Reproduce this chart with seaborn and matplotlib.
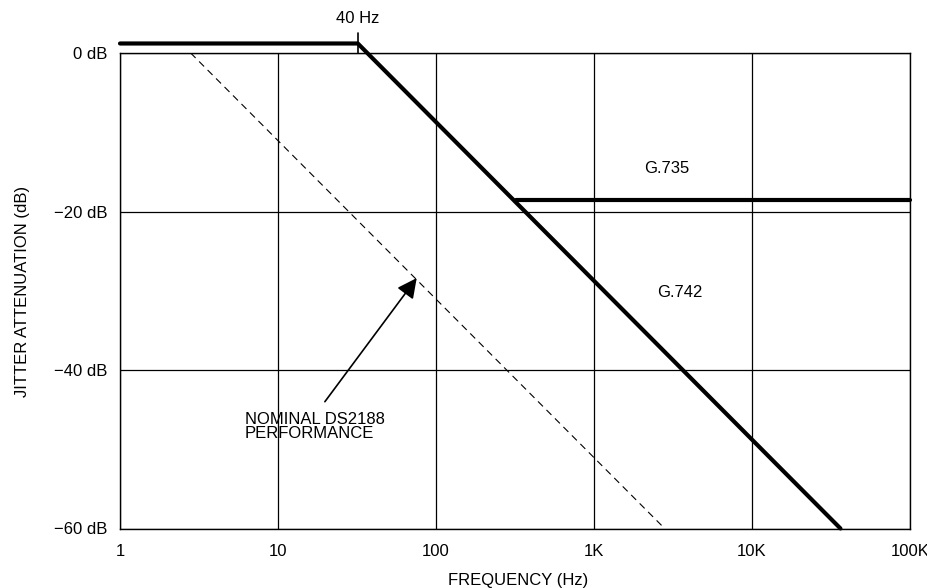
import matplotlib
matplotlib.use("Agg")
import matplotlib.pyplot as plt
import seaborn as sns
import pandas as pd

# ---- data ----
g742_freq = [1, 32, 36300]
g742_db = [1.2, 1.2, -60]
g735_freq = [320, 100000]
g735_db = [-18.6, -18.6]
ds2188_freq = [2.8, 2800]
ds2188_db = [0, -60]

x_ticks = [1, 10, 100, 1000, 10000, 100000]
x_tick_labels = ["1", "10", "100", "1K", "10K", "100K"]
y_ticks = [0, -20, -40, -60]
y_tick_labels = ["0 dB", "−20 dB", "−40 dB", "−60 dB"]

corner_freq = 32
corner_label = "40 Hz"

sns.set_theme(style="white")
plt.rcParams['font.family'] = ['Liberation Sans', 'DejaVu Sans']
plt.rcParams['text.color'] = 'black'
plt.rcParams['axes.labelcolor'] = 'black'
plt.rcParams['xtick.color'] = 'black'
plt.rcParams['ytick.color'] = 'black'
FS = 12

fig = plt.figure(figsize=(9.28, 5.88), dpi=100)
ax = fig.add_axes([120/928, 1-528.5/588, 790/928, 475.5/588])
ax.set_xscale('log')

df742 = pd.DataFrame({"f": g742_freq, "db": g742_db})
df735 = pd.DataFrame({"f": g735_freq, "db": g735_db})
dfds = pd.DataFrame({"f": ds2188_freq, "db": ds2188_db})

sns.lineplot(data=df742, x="f", y="db", ax=ax, color="black", lw=3.0,
             estimator=None, clip_on=False, zorder=5)
sns.lineplot(data=df735, x="f", y="db", ax=ax, color="black", lw=3.0,
             estimator=None, clip_on=False, zorder=5)
sns.lineplot(data=dfds, x="f", y="db", ax=ax, color="black", lw=0.8,
             estimator=None, zorder=4)
ax.lines[-1].set_dashes((6.3, 4.5))

ax.set_xlim(1, 1e5)
ax.set_ylim(-60, 0)
ax.set_xticks(x_ticks)
ax.set_xticklabels(x_tick_labels, fontsize=FS, color='black')
ax.set_yticks(y_ticks)
ax.set_yticklabels(y_tick_labels, fontsize=FS, color='black')
ax.minorticks_off()
ax.tick_params(axis='x', length=0, pad=11.5, colors='black')
ax.tick_params(axis='y', length=0, pad=9, colors='black')
ax.grid(True, color='black', lw=0.9)
for s in ax.spines.values():
    s.set_visible(True)
    s.set_color('black')
    s.set_linewidth(1.0)
ax.set_xlabel("")
ax.set_ylabel("")

# 40 Hz marker tick
ax.plot([corner_freq, corner_freq], [0, 2.5], color='black', lw=1.2, clip_on=False)
ax.text(corner_freq, 4.3, corner_label, ha='center', va='center', fontsize=FS, color='black')

ax.text(2897, -14.6, "G.735", ha='center', va='center', fontsize=FS, color='black')
ax.text(3477, -30.2, "G.742", ha='center', va='center', fontsize=FS, color='black')

ax.text(6.18, -45.3, "NOMINAL DS2188\nPERFORMANCE", ha='left', va='top',
        fontsize=FS, linespacing=0.95, color='black')
ax.annotate("", xy=(75.5, -28.4), xytext=(19.8, -44.0),
            arrowprops=dict(arrowstyle='-|>', color='black', lw=1.2,
                            mutation_scale=30, shrinkA=0, shrinkB=0))

fig.text(518/928, 1-580/588, "FREQUENCY (Hz)", ha='center', va='center',
         fontsize=FS, color='black')
fig.text(22.5/928, 1-291/588, "JITTER ATTENUATION (dB)", ha='center', va='center',
         rotation=90, fontsize=FS, color='black')

fig.savefig("out.png", dpi=100)
